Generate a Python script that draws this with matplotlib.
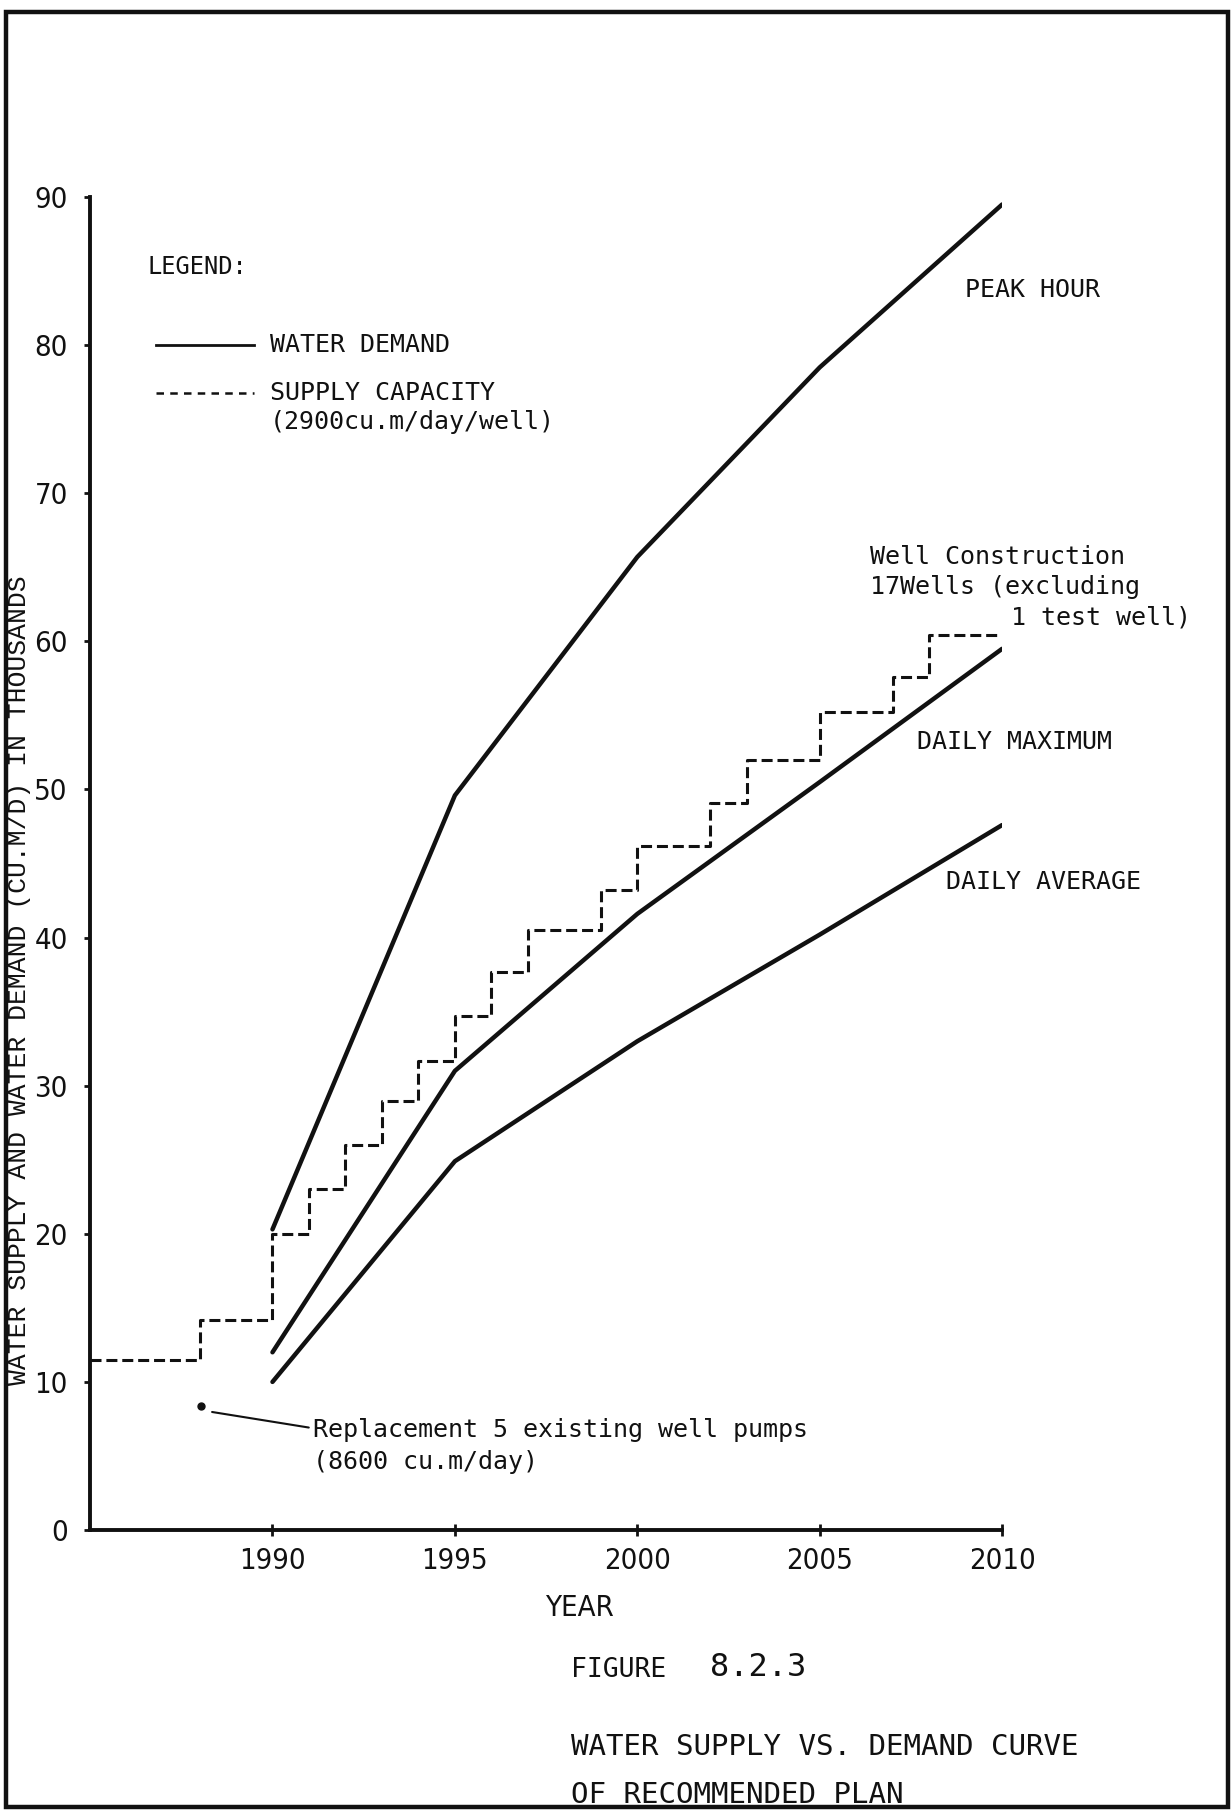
import matplotlib
matplotlib.use("Agg")
import matplotlib.pyplot as plt
from matplotlib import font_manager as fm
from matplotlib.patches import Rectangle

# water demand (thousand cu.m/day)
years = [1990, 1995, 2000, 2005, 2010]
peak_hour = [20.3, 49.6, 65.7, 78.5, 89.5]
daily_max = [12.0, 31.0, 41.6, 50.5, 59.5]
daily_avg = [10.0, 24.9, 33.0, 40.2, 47.6]

# supply capacity steps (2900 cu.m/day/well)
supply_years = [1985, 1988, 1990, 1991, 1992, 1993, 1994, 1995, 1996, 1997,
                1999, 2000, 2002, 2003, 2005, 2007, 2008, 2010]
supply_cap = [11.5, 14.2, 20.0, 23.0, 26.0, 29.0, 31.7, 34.7, 37.7, 40.5,
              43.2, 46.2, 49.1, 52.0, 55.2, 57.6, 60.4, 60.4]

replace_year = 1988.05
replace_cap = 8.4

xticks = [1990, 1995, 2000, 2005, 2010]
yticks = [0, 10, 20, 30, 40, 50, 60, 70, 80, 90]

ink = "#111111"
mono = ["DejaVu Sans Mono"]


def narrow_font(size):
    # look for a condensed sans face, the plotter digits are tall and thin
    cands = []
    for f in fm.fontManager.ttflist:
        n = f.name.lower()
        if f.style != "normal":
            continue
        if "narrow" in n or "condensed" in n:
            cands.append(f)
        elif isinstance(f.stretch, str) and "condensed" in f.stretch:
            cands.append(f)
    cands.sort(key=lambda f: (f.weight not in ("normal", 400, "regular"), "sans" not in f.name.lower()))
    if cands:
        return fm.FontProperties(fname=cands[0].fname, size=size)
    return fm.FontProperties(family="DejaVu Sans", stretch="condensed", size=size)


tick_font = narrow_font(21)

fig = plt.figure(figsize=(12.32, 18.18), dpi=100)
ax = fig.add_axes([0.0731, 0.1584, 0.7403, 0.7332])

for vals in (peak_hour, daily_max, daily_avg):
    ax.plot(years, vals, color=ink, lw=3.2, solid_capstyle="round")
ax.step(supply_years, supply_cap, where="post", color=ink, lw=2.2,
        linestyle=(0, (3.6, 1.6)))

ax.set_xlim(1985, 2010)
ax.set_ylim(0, 90)
ax.set_xticks(xticks)
ax.set_yticks(yticks)
ax.set_xticklabels([str(v) for v in xticks], fontproperties=tick_font, color=ink)
ax.set_yticklabels([str(v) for v in yticks], fontproperties=tick_font, color=ink)
ax.tick_params(axis="y", direction="out", length=4, width=2, pad=12, colors=ink)
ax.tick_params(axis="x", direction="inout", length=8, width=2, pad=8, colors=ink)
for s in ("top", "right"):
    ax.spines[s].set_visible(False)
for s in ("left", "bottom"):
    ax.spines[s].set_linewidth(2.8)
    ax.spines[s].set_color(ink)
ax.patch.set_alpha(0)

# legend drawn by hand like the original
ax.text(1986.58, 85.3, "LEGEND:", family=mono, fontsize=17, va="center", color=ink)
ax.plot([1986.8, 1989.5], [80.0, 80.0], color=ink, lw=2.0)
ax.plot([1986.8, 1989.5], [76.8, 76.8], color=ink, lw=1.8, linestyle=(0, (3, 2.5)))
ax.text(1989.92, 80.0, "WATER DEMAND", family=mono, fontsize=18, va="center", color=ink)
ax.text(1989.92, 76.8, "SUPPLY CAPACITY", family=mono, fontsize=18, va="center", color=ink)
ax.text(1989.92, 74.8, "(2900cu.m/day/well)", family=mono, fontsize=18, va="center", color=ink)

# curve labels
ax.text(2008.99, 83.7, "PEAK HOUR", family=mono, fontsize=18, va="center", color=ink, clip_on=False)
ax.text(2006.39, 65.7, "Well Construction", family=mono, fontsize=18, va="center", color=ink, clip_on=False)
ax.text(2006.39, 63.7, "17Wells (excluding", family=mono, fontsize=18, va="center", color=ink, clip_on=False)
ax.text(2010.25, 61.6, "1 test well)", family=mono, fontsize=18, va="center", color=ink, clip_on=False)
ax.text(2007.68, 53.2, "DAILY MAXIMUM", family=mono, fontsize=18, va="center", color=ink, clip_on=False)
ax.text(2008.47, 43.75, "DAILY AVERAGE", family=mono, fontsize=18, va="center", color=ink, clip_on=False)

# pump replacement note
ax.plot([replace_year], [replace_cap], "o", color=ink, ms=5)
ax.annotate("", xy=(replace_year + 0.22, replace_cap - 0.4), xytext=(1991.07, 6.89),
            arrowprops=dict(arrowstyle="-", color=ink, lw=1.5))
ax.text(1991.12, 6.75, "Replacement 5 existing well pumps", family=mono, fontsize=18,
        va="center", color=ink)
ax.text(1991.12, 4.6, "(8600 cu.m/day)", family=mono, fontsize=18, va="center", color=ink)

# axis titles and caption
fig.text(0.0158, 0.461, "WATER SUPPLY AND WATER DEMAND (CU.M/D) IN THOUSANDS",
         family=["Liberation Mono", "DejaVu Sans Mono"], fontsize=19, rotation=90,
         ha="center", va="center", color=ink)
fig.text(0.4424, 0.1155, "YEAR", fontproperties=narrow_font(21), va="center", color=ink)
fig.text(0.4635, 0.0814, "FIGURE", family=mono, fontsize=19, va="center", color=ink)
fig.text(0.5763, 0.0830, "8.2.3", family=mono, fontsize=23, va="center", color=ink)
fig.text(0.4635, 0.0391, "WATER SUPPLY VS. DEMAND CURVE", family=mono, fontsize=21,
         va="center", color=ink)
fig.text(0.4635, 0.0127, "OF RECOMMENDED PLAN", family=mono, fontsize=21,
         va="center", color=ink)

# scanned page frame
fig.patches.append(Rectangle((0.005, 0.006), 0.9915, 0.9874, transform=fig.transFigure,
                             fill=False, edgecolor=ink, lw=3.2))

fig.savefig("out.png", dpi=100, facecolor="white")
